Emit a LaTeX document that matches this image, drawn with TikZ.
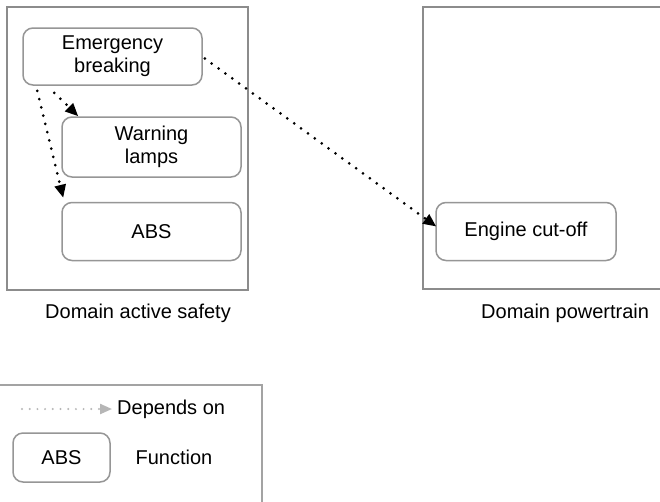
\documentclass[tikz,border=0pt]{standalone}
\usepackage{fontspec}
\setmainfont{Liberation Sans}
\usetikzlibrary{arrows.meta, positioning, calc}
\definecolor{BoxGray}{RGB}{140,140,140}
\definecolor{FuncGray}{RGB}{150,150,150}

\begin{document}
\begin{tikzpicture}[x=1pt, y=-1pt,
    lbl/.style={font=\fontsize{20}{23}\selectfont, inner sep=0pt},
    func/.style={rectangle, draw=FuncGray, line width=1.5pt, rounded corners=10pt, minimum width=179pt, minimum height=58pt, align=center, font=\fontsize{20}{23}\selectfont},
    dombox/.style={rectangle, draw=BoxGray, line width=2pt, inner sep=0pt},
    depline/.style={black, dash pattern=on 0pt off 8.5pt, line width=3pt, line cap=round, -{Triangle[length=13pt,width=11pt]}},
    legdep/.style={FuncGray!70, dash pattern=on 0pt off 7.7pt, line width=2.2pt, line cap=round, -{Triangle[length=12pt,width=10pt]}}
  ]
  \useasboundingbox (0,0) rectangle (660,501);
  \fill[white] (0,0) rectangle (660,501);
  \clip (0,0) rectangle (660,501);

  % domains
  \node (dsafe) [dombox, minimum width=241pt, minimum height=283pt] at (127.5,148.5) {};
  \node (dpow) [dombox, minimum width=250pt, minimum height=282pt] at (548,148) {};
  \node [lbl, anchor=base west] at (45,318) {Domain active safety};
  \node [lbl, anchor=base west] at (481,318) {Domain powertrain};

  % functions
  \node (eb) [func, minimum height=57pt] at (112.5,56.5) {Emergency\\breaking};
  \node (wl) [func, minimum height=60pt] at (151.5,147) {Warning\\lamps};
  \node (abs) [func] at (151.5,231.5) {ABS};
  \node (eco) [func, minimum width=180pt] at (526,231.5) {Engine cut-off};

  % dependencies
  \draw[depline] ($(eb.south west)+(15,5)$) -- ($(abs.north west)+(2,-4)$);
  \draw[depline] ($(eb.south west)+(32,7)$) -- ($(wl.north west)+(17,0)$);
  \draw[depline] ($(eb.east)+(2,2)$) -- ($(eco.west)+(1,-5)$);

  % legend
  \draw[BoxGray!80, line width=1.5pt] (-5,385) rectangle (262,520);
  \coordinate (lg1) at (22,409);
  \node (dep) [lbl, anchor=west] at (117,409) {Depends on};
  \draw[legdep, shorten >=5pt] (lg1) -- (dep.west);
  \node (lfn) [func, minimum width=97pt, minimum height=49pt] at (61.5,457.5) {ABS};
  \node (lfntxt) [lbl] at (174,457.5) {Function};
\end{tikzpicture}
\end{document}
